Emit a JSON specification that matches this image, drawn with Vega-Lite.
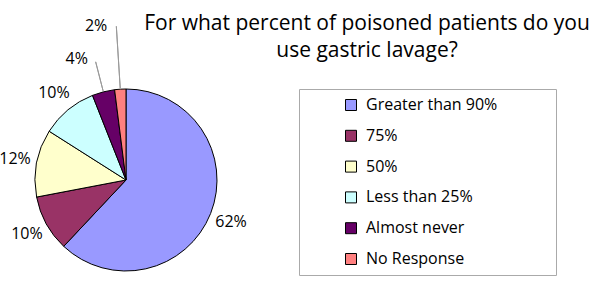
{
  "$schema": "https://vega.github.io/schema/vega-lite/v6.json",
  "width": 182,
  "height": 182,
  "autosize": {"type": "none"},
  "padding": {"left": 35, "top": 89, "right": 383, "bottom": 26},
  "background": "white",
  "config": {"view": {"stroke": null}, "font": "Open Sans"},
  "title": {
    "text": ["For what percent of poisoned patients do you", "use gastric lavage?"],
    "anchor": "start",
    "frame": "group",
    "align": "center",
    "dx": 332,
    "dy": 67,
    "fontSize": 21,
    "fontWeight": "normal",
    "font": "Open Sans",
    "color": "black",
    "lineHeight": 27,
    "offset": 24
  },
  "data": {
    "values": [
      {"category": "Greater than 90%", "percent": 62, "order": 1, "label": "62%"},
      {"category": "75%", "percent": 10, "order": 2, "label": "10%"},
      {"category": "50%", "percent": 12, "order": 3, "label": "12%"},
      {"category": "Less than 25%", "percent": 10, "order": 4, "label": "10%"},
      {"category": "Almost never", "percent": 4, "order": 5, "label": "4%"},
      {"category": "No Response", "percent": 2, "order": 6, "label": "2%"}
    ]
  },
  "encoding": {
    "theta": {"field": "percent", "type": "quantitative", "stack": true},
    "order": {"field": "order", "type": "quantitative"}
  },
  "layer": [
    {
      "mark": {"type": "arc", "outerRadius": 91, "stroke": "black", "strokeWidth": 1},
      "encoding": {
        "color": {
          "field": "category",
          "type": "nominal",
          "sort": null,
          "scale": {
            "domain": ["Greater than 90%", "75%", "50%", "Less than 25%", "Almost never", "No Response"],
            "range": ["#9999FF", "#993366", "#FFFFCC", "#CCFFFF", "#660066", "#FF8080"]
          },
          "legend": {
            "title": null,
            "orient": "none",
            "legendX": 264,
            "legendY": 0,
            "padding": 8,
            "strokeColor": "#aaaaaa",
            "fillColor": "white",
            "symbolType": "square",
            "symbolSize": 121,
            "symbolStrokeColor": "black",
            "symbolStrokeWidth": 1,
            "symbolFillOpacity": 1,
            "symbolOffset": 36,
            "labelOffset": 7,
            "labelFontSize": 16,
            "labelFont": "Open Sans",
            "labelColor": "black",
            "labelLimit": 400,
            "rowPadding": 14.8,
            "labelExpr": "datum.label + '\u00a0\u00a0\u00a0\u00a0\u00a0\u00a0\u00a0\u00a0\u00a0\u00a0\u00a0\u00a0\u200b'"
          }
        }
      }
    },
    {
      "mark": {"type": "arc", "radius": 92, "radius2": 122, "padAngle": 1, "fill": null, "stroke": "#999999", "strokeWidth": 1},
      "encoding": {
        "strokeOpacity": {"condition": {"test": "datum.percent == 4", "value": 1}, "value": 0}
      }
    },
    {
      "mark": {"type": "arc", "radius": 92, "radius2": 154, "padAngle": 1, "fill": null, "stroke": "#999999", "strokeWidth": 1},
      "encoding": {
        "strokeOpacity": {"condition": {"test": "datum.percent == 2", "value": 1}, "value": 0}
      }
    },
    {
      "mark": {"type": "text", "radius": 113, "fontSize": 16, "fill": "black"},
      "encoding": {
        "text": {"condition": {"test": "datum.percent < 10", "value": ""}, "field": "label"}
      }
    },
    {
      "mark": {"type": "text", "radius": 130, "dx": -17, "dy": 5, "fontSize": 16, "fill": "black"},
      "encoding": {
        "text": {"condition": {"test": "datum.percent != 4", "value": ""}, "field": "label"}
      }
    },
    {
      "mark": {"type": "text", "radius": 157, "dx": -20, "dy": 3, "fontSize": 16, "fill": "black"},
      "encoding": {
        "text": {"condition": {"test": "datum.percent != 2", "value": ""}, "field": "label"}
      }
    }
  ]
}
